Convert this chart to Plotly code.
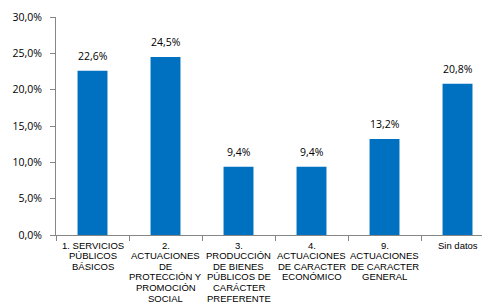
import plotly.graph_objects as go

categories = [
    "1. SERVICIOS<br>PÚBLICOS<br>BÁSICOS",
    "2.<br>ACTUACIONES<br>DE<br>PROTECCIÓN Y<br>PROMOCIÓN<br>SOCIAL",
    "3.<br>PRODUCCIÓN<br>DE BIENES<br>PÚBLICOS DE<br>CARÁCTER<br>PREFERENTE",
    "4.<br>ACTUACIONES<br>DE CARACTER<br>ECONÓMICO",
    "9.<br>ACTUACIONES<br>DE CARACTER<br>GENERAL",
    "Sin datos",
]
values = [22.6, 24.5, 9.4, 9.4, 13.2, 20.8]
y_ticks = [0, 5, 10, 15, 20, 25, 30]

fig = go.Figure()
fig.add_trace(go.Bar(
    x=categories, y=values,
    marker=dict(color="#0070C0", line=dict(width=0)),
    width=0.41,
))

for c, v in zip(categories, values):
    fig.add_annotation(x=c, y=v, text=f"{v:.1f}%".replace(".", ","),
                       showarrow=False, yanchor="bottom", yshift=6,
                       font=dict(family="Open Sans", size=10.5, color="#000000"))

# category labels, one annotation per line for tighter line spacing
for c in categories:
    for i, line in enumerate(c.split("<br>")):
        fig.add_annotation(x=c, y=0, text=line, showarrow=False,
                           yanchor="middle", xanchor="center",
                           yshift=-(10 + i * 10.6),
                           font=dict(family="Liberation Sans", size=9.5, color="#000000"))

fig.update_layout(
    width=482, height=297,
    margin=dict(l=48, r=0, t=9, b=70),
    paper_bgcolor="white", plot_bgcolor="white",
    showlegend=False,
    separators=",.",
)
fig.update_yaxes(
    range=[0, 30], tickvals=y_ticks,
    ticktext=[f"{t:.1f}%".replace(".", ",") for t in y_ticks],
    showgrid=False, zeroline=False, automargin=False,
    showline=True, linecolor="#868686", linewidth=1,
    ticks="outside", ticklen=5, tickcolor="#868686",
    ticklabelstandoff=6,
    tickfont=dict(family="Open Sans", size=10.5, color="#000000"),
)
fig.update_xaxes(
    type="category", showgrid=False, automargin=False,
    range=[-0.5, 5.445],
    showline=True, linecolor="#868686", linewidth=1,
    ticks="outside", ticklen=5, tickcolor="#868686", tickson="boundaries",
    showticklabels=False,
)
fig.write_html("out.html")
